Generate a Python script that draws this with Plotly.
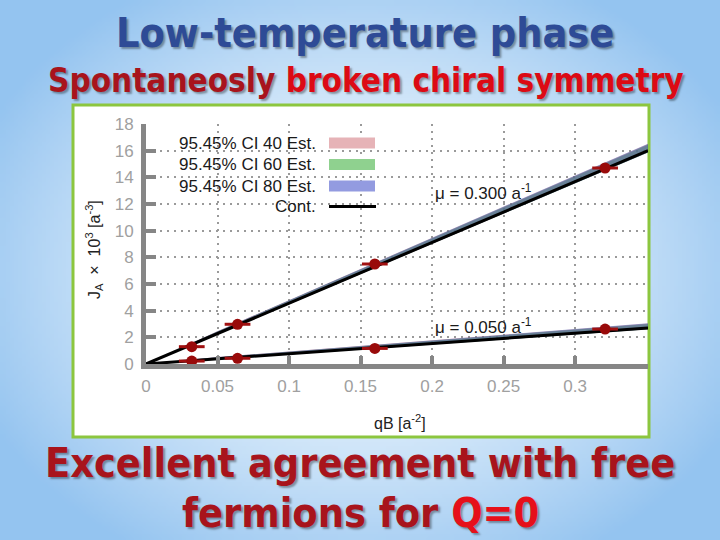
import base64, struct, zlib
import numpy as np
import plotly.graph_objects as go

# ---------------- data ----------------
qb_points = [0.032, 0.064, 0.160, 0.321]
ja_mu300 = [1.3, 2.98, 7.5, 14.7]
ja_mu050 = [0.22, 0.43, 1.17, 2.62]
qb_err = [0.009, 0.009, 0.009, 0.009]

qb_line = [0.0, 0.05, 0.351]
cont_mu300 = [0.0, 2.28, 16.0]
cont_mu050 = [0.0, 0.38, 2.70]

ci40_mu300_lo = [0.0, 2.22, 15.88]; ci40_mu300_hi = [0.0, 2.45, 16.50]
ci60_mu300_lo = [0.0, 2.22, 15.86]; ci60_mu300_hi = [0.0, 2.43, 16.45]
ci80_mu300_lo = [0.0, 2.22, 15.86]; ci80_mu300_hi = [0.0, 2.45, 16.52]
ci40_mu050_lo = [0.0, 0.33, 2.62]; ci40_mu050_hi = [0.0, 0.52, 3.04]
ci60_mu050_lo = [0.0, 0.33, 2.60]; ci60_mu050_hi = [0.0, 0.50, 3.00]
ci80_mu050_lo = [0.0, 0.33, 2.60]; ci80_mu050_hi = [0.0, 0.52, 3.05]

x_tickvals = [0, 0.05, 0.1, 0.15, 0.2, 0.25, 0.3]
x_ticktext = ["0", "0.05", "0.1", "0.15", "0.2", "0.25", "0.3"]
y_tickvals = [0, 2, 4, 6, 8, 10, 12, 14, 16, 18]

legend_labels = ["95.45% CI 40 Est.", "95.45% CI 60 Est.", "95.45% CI 80 Est.", "Cont."]

# ---------------- geometry ----------------
W, H = 720, 540
ML, MR, MT, MB = 146, 72, 124, 176
PW, PH = W - ML - MR, H - MT - MB


def px(x):
    return (x - ML) / PW


def py(y):
    return (H - MB - y) / PH


# ---------------- background gradient image ----------------
def png_uri(arr):
    h, w, _ = arr.shape
    raw = b"".join(b"\x00" + arr[i].tobytes() for i in range(h))

    def chunk(t, d):
        c = struct.pack(">I", len(d)) + t + d
        return c + struct.pack(">I", zlib.crc32(t + d) & 0xFFFFFFFF)

    data = b"\x89PNG\r\n\x1a\n" + chunk(b"IHDR", struct.pack(">IIBBBBB", w, h, 8, 2, 0, 0, 0)) \
        + chunk(b"IDAT", zlib.compress(raw, 9)) + chunk(b"IEND", b"")
    return "data:image/png;base64," + base64.b64encode(data).decode()


gw, gh = 180, 135
yy, xx = np.mgrid[0:gh, 0:gw]
t = np.sqrt(((xx / gw * W - 360) / 420) ** 2 + ((yy / gh * H - 270) / 330) ** 2)
t = np.clip(t, 0, 1) ** 1.5
c0 = np.array([246, 251, 255]); c1 = np.array([148, 196, 240])
img = (c0[None, None, :] * (1 - t[..., None]) + c1[None, None, :] * t[..., None]).astype(np.uint8)
bg_uri = png_uri(img)

# ---------------- figure ----------------
fig = go.Figure()

band_colors = ["rgba(200,70,80,0.50)", "rgba(50,150,60,0.50)", "rgba(70,100,190,0.50)"]
bands = [
    (ci40_mu300_lo, ci40_mu300_hi, 0), (ci60_mu300_lo, ci60_mu300_hi, 1), (ci80_mu300_lo, ci80_mu300_hi, 2),
    (ci40_mu050_lo, ci40_mu050_hi, 0), (ci60_mu050_lo, ci60_mu050_hi, 1), (ci80_mu050_lo, ci80_mu050_hi, 2),
]
for lo, hi, k in bands:
    fig.add_trace(go.Scatter(
        x=qb_line + qb_line[::-1], y=hi + lo[::-1], fill="toself",
        fillcolor=band_colors[k], line=dict(width=0), mode="lines",
        hoverinfo="skip", showlegend=False))

for yv in (cont_mu300, cont_mu050):
    fig.add_trace(go.Scatter(x=qb_line, y=yv, mode="lines",
                             line=dict(color="black", width=3), showlegend=False))

for yv in (ja_mu300, ja_mu050):
    fig.add_trace(go.Scatter(
        x=qb_points, y=yv, mode="markers",
        marker=dict(color="#990a0a", size=11),
        error_x=dict(type="data", array=qb_err, color="#a01010", thickness=3, width=0),
        showlegend=False))

axis_common = dict(
    showline=True, linecolor="#868686", linewidth=5,
    ticks="inside", tickcolor="#868686", tickwidth=4,
    showgrid=True, gridcolor="#9a9a9a", gridwidth=1.5, griddash="2px,5px",
    zeroline=False, tickfont=dict(family="Liberation Sans, Arial", size=17, color="#a0a0a0"),
    mirror=False,
)
fig.update_xaxes(range=[0, 0.351], tickvals=x_tickvals, ticktext=x_ticktext, ticklen=8,
                 ticklabelstandoff=3, **axis_common)
fig.update_yaxes(range=[0, 18], tickvals=y_tickvals, ticklen=10, ticklabelstandoff=4, **axis_common)

shapes = [dict(type="rect", xref="paper", yref="paper", x0=px(73), x1=px(649), y0=py(437), y1=py(105),
               fillcolor="white", line=dict(color="#8cc63f", width=3), layer="below")]

# legend samples (gnuplot style: text then sample)
leg_y = [143, 164.5, 186, 206.5]
leg_cols = ["#e6b3b7", "#8fd18f", "#939be0"]
for i in range(3):
    shapes.append(dict(type="rect", xref="paper", yref="paper", x0=px(329), x1=px(375),
                       y0=py(leg_y[i] + 5.5), y1=py(leg_y[i] - 5.5), fillcolor=leg_cols[i],
                       line=dict(width=0), layer="above"))
shapes.append(dict(type="line", xref="paper", yref="paper", x0=px(329), x1=px(376),
                   y0=py(leg_y[3]), y1=py(leg_y[3]), line=dict(color="black", width=3)))

anns = []
lab_font = dict(family="Liberation Sans, Arial", size=17, color="#1a1a1a")
for i, lab in enumerate(legend_labels):
    anns.append(dict(text=lab, xref="paper", yref="paper", x=px(318), y=py(leg_y[i]),
                     xanchor="right", yanchor="middle", showarrow=False, font=lab_font))

anns.append(dict(text="μ = 0.300 a<sup>-1</sup>", xref="paper", yref="paper", x=px(433), y=py(192),
                 xanchor="left", yanchor="middle", showarrow=False, font=lab_font))
anns.append(dict(text="μ = 0.050 a<sup>-1</sup>", xref="paper", yref="paper", x=px(433), y=py(326),
                 xanchor="left", yanchor="middle", showarrow=False, font=lab_font))

anns.append(dict(text="J<sub>A</sub>  ×  10<sup>3</sup> [a<sup>-3</sup>]", xref="paper", yref="paper",
                 x=px(94), y=py(250), textangle=-90, xanchor="center", yanchor="middle",
                 showarrow=False, font=dict(family="Liberation Sans, Arial", size=16, color="#222")))
anns.append(dict(text="qB [a<sup>-2</sup>]", xref="paper", yref="paper", x=px(400), y=py(422),
                 xanchor="center", yanchor="middle", showarrow=False,
                 font=dict(family="Liberation Sans, Arial", size=16, color="#222")))

shadow = "2px 2px 2px rgba(0,0,0,0.35)"
title_family = "DejaVu Sans Condensed, DejaVu Sans"
anns.append(dict(text="Low-temperature phase", xref="paper", yref="paper", x=px(365), y=py(33),
                 xanchor="center", yanchor="middle", showarrow=False,
                 font=dict(family=title_family, size=41, weight="bold", color="#2e4b96", shadow=shadow)))
anns.append(dict(text="<span style='color:#a8141c'>Spontaneosly</span> <span style='color:#dc0a14'>broken chiral symmetry</span>",
                 xref="paper", yref="paper", x=px(366), y=py(80),
                 xanchor="center", yanchor="middle", showarrow=False,
                 font=dict(family=title_family, size=33, weight="bold", color="#a8141c", shadow=shadow)))
anns.append(dict(text="Excellent agreement with free", xref="paper", yref="paper", x=px(360), y=py(463),
                 xanchor="center", yanchor="middle", showarrow=False,
                 font=dict(family=title_family, size=41, weight="bold", color="#a8141c", shadow=shadow)))
anns.append(dict(text="fermions for <span style='color:#e6101a'>Q=0</span>", xref="paper", yref="paper",
                 x=px(360), y=py(513), xanchor="center", yanchor="middle", showarrow=False,
                 font=dict(family=title_family, size=41, weight="bold", color="#a8141c", shadow=shadow)))

fig.update_layout(
    width=W, height=H, autosize=False,
    margin=dict(l=ML, r=MR, t=MT, b=MB),
    paper_bgcolor="white", plot_bgcolor="rgba(0,0,0,0)",
    showlegend=False,
    shapes=shapes, annotations=anns,
    images=[dict(source=bg_uri, xref="paper", yref="paper", x=-ML / PW, y=1 + MT / PH,
                 sizex=W / PW, sizey=H / PH, sizing="stretch", xanchor="left", yanchor="top",
                 layer="below")],
)

fig.write_html("out.html", config={"displayModeBar": False},
               post_script="document.body.style.margin='0';document.body.style.overflow='hidden';")
